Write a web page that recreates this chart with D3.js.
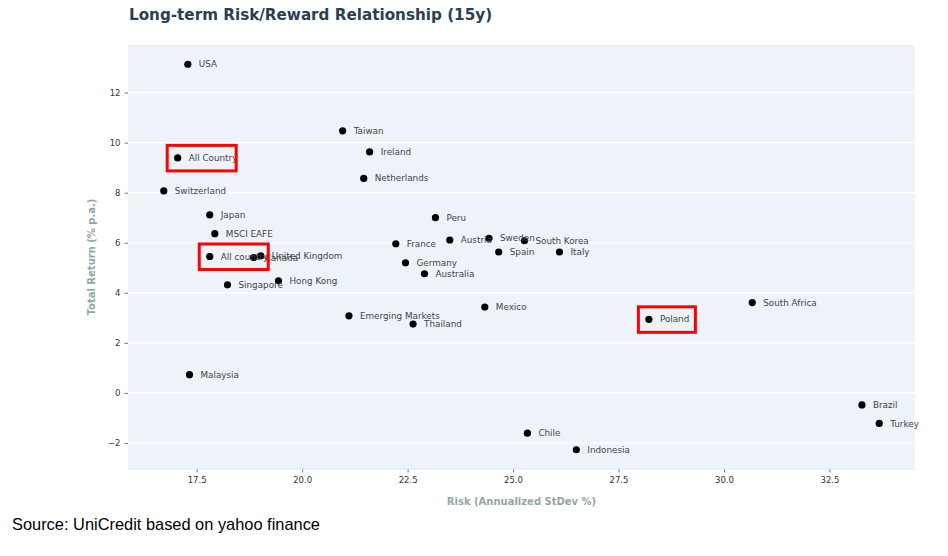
<!DOCTYPE html>
<html>
<head>
<meta charset="utf-8">
<script src="https://cdn.jsdelivr.net/npm/d3@7"></script>
<style>
  html, body { margin: 0; padding: 0; background: #ffffff; }
  svg { display: block; }
</style>
</head>
<body>
<svg id="chart" width="948" height="556"></svg>
<script>
// ---- Data ----
const countries = ["USA","Taiwan","Ireland","Netherlands","All Country","Switzerland","Japan","MSCI EAFE",
  "All country","Canada","United Kingdom","Singapore","Hong Kong","France","Peru","Austria","Sweden",
  "South Korea","Spain","Italy","Germany","Australia","Mexico","Thailand","Emerging Markets","Malaysia",
  "Chile","Indonesia","Brazil","Turkey","South Africa","Poland"];
const risk = [17.29,20.96,21.60,21.46,17.05,16.72,17.81,17.93,
  17.81,18.85,19.02,18.23,19.44,22.22,23.16,23.50,24.43,
  25.27,24.66,26.10,22.45,22.90,24.33,22.63,21.11,17.33,
  25.34,26.50,33.27,33.68,30.67,28.22];
const totalReturn = [13.13,10.47,9.63,8.57,9.39,8.07,7.11,6.36,
  5.45,5.41,5.48,4.32,4.48,5.96,7.00,6.11,6.18,
  6.08,5.63,5.63,5.20,4.76,3.43,2.75,3.08,0.73,
  -1.61,-2.27,-0.48,-1.22,3.61,2.94];
const highlighted = ["All Country","All country","Poland"];
const xTicks = [17.5,20.0,22.5,25.0,27.5,30.0,32.5];
const yTicks = [-2,0,2,4,6,8,10,12];

const points = countries.map((c,i)=>({name:c, x:risk[i], y:totalReturn[i]}));

// ---- Layout ----
const svg = d3.select("#chart");
const plot = {left:128, right:915, top:45, bottom:469};

function padded(ext){ const r = ext[1]-ext[0]; return [ext[0]-0.05*r, ext[1]+0.05*r]; }
const x = d3.scaleLinear().domain(padded(d3.extent(risk))).range([plot.left, plot.right]);
const y = d3.scaleLinear().domain(padded(d3.extent(totalReturn))).range([plot.bottom, plot.top]);

// background
svg.append("rect").attr("x",plot.left).attr("y",plot.top)
  .attr("width",plot.right-plot.left).attr("height",plot.bottom-plot.top)
  .attr("fill","#eef3fa");

// horizontal grid
svg.append("g").selectAll("line").data(yTicks).join("line")
  .attr("x1",plot.left).attr("x2",plot.right)
  .attr("y1",d=>y(d)).attr("y2",d=>y(d))
  .attr("stroke","#ffffff").attr("stroke-width",1.2);

// axes
const tickFont = "DejaVu Sans, sans-serif";
const xAxis = svg.append("g").attr("transform",`translate(0,${plot.bottom})`)
  .call(d3.axisBottom(x).tickValues(xTicks).tickFormat(d3.format(".1f")).tickSize(3.5).tickPadding(4));
const yAxis = svg.append("g").attr("transform",`translate(${plot.left},0)`)
  .call(d3.axisLeft(y).tickValues(yTicks).tickFormat(d=>d<0?"\u2212"+Math.abs(d):d).tickSize(3.5).tickPadding(4));
[xAxis,yAxis].forEach(a=>{
  a.select(".domain").remove();
  a.selectAll(".tick line").attr("stroke","#555").attr("stroke-width",0.8);
  a.selectAll(".tick text").attr("fill","#333").style("font-family",tickFont).style("font-size","8.5px");
});
xAxis.append("line").attr("x1",plot.left).attr("x2",plot.right).attr("y1",0).attr("y2",0)
  .attr("stroke","#dde3ea").attr("stroke-width",1);

// points
svg.append("g").selectAll("circle").data(points).join("circle")
  .attr("cx",d=>x(d.x)).attr("cy",d=>y(d.y)).attr("r",3.6).attr("fill","#000");

// labels
svg.append("g").selectAll("text").data(points).join("text")
  .attr("x",d=>x(d.x)+11).attr("y",d=>y(d.y)).attr("dy","0.35em")
  .attr("fill","#444").style("font-family",tickFont).style("font-size","8.8px")
  .text(d=>d.name);

// highlight boxes
const boxes = points.filter(p=>highlighted.includes(p.name));
svg.append("g").selectAll("rect").data(boxes).join("rect")
  .attr("x",d=>x(d.x)-10.5).attr("y",d=>y(d.y)-12.5)
  .attr("width",d=>d.name==="Poland"?57:69).attr("height",25.5)
  .attr("fill","none").attr("stroke","#ff0000").attr("stroke-width",3);

// title
svg.append("text").attr("x",129).attr("y",20)
  .attr("fill","#2c3e50").style("font-family",tickFont).style("font-weight","bold").style("font-size","15.2px")
  .text("Long-term Risk/Reward Relationship (15y)");

// axis titles
svg.append("text").attr("x",(plot.left+plot.right)/2).attr("y",505).attr("text-anchor","middle")
  .attr("fill","#95a5a6").style("font-family",tickFont).style("font-weight","bold").style("font-size","10px")
  .text("Risk (Annualized StDev %)");
svg.append("text").attr("transform",`translate(95,${(plot.top+plot.bottom)/2}) rotate(-90)`)
  .attr("text-anchor","middle")
  .attr("fill","#95a5a6").style("font-family",tickFont).style("font-weight","bold").style("font-size","10px")
  .text("Total Return (% p.a.)");

// source
svg.append("text").attr("x",12).attr("y",530)
  .attr("fill","#000").style("font-family","Liberation Sans, Arial, sans-serif").style("font-size","16.4px")
  .text("Source: UniCredit based on yahoo finance");
</script>
</body>
</html>
